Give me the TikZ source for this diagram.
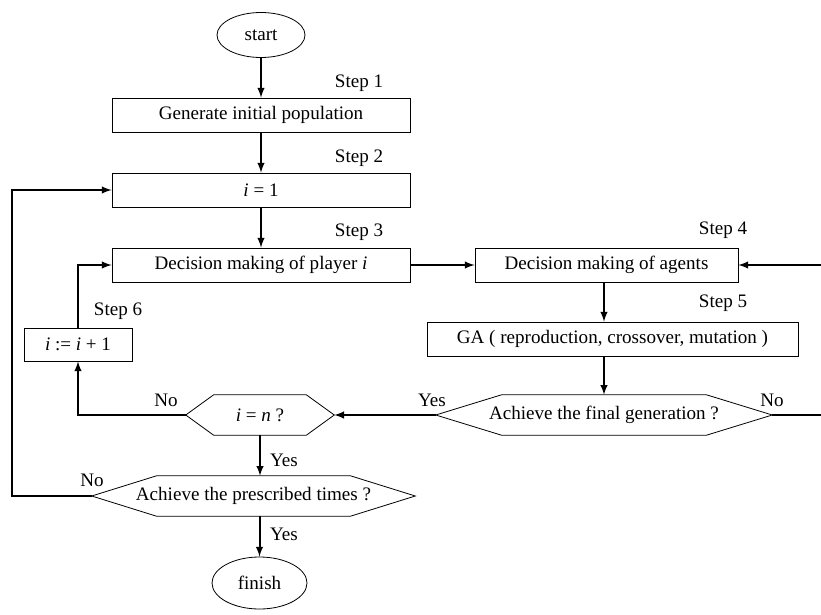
\documentclass[tikz,border=0pt]{standalone}
\usepackage{fontspec}
\setmainfont{Liberation Serif}
\usetikzlibrary{arrows}
\usetikzlibrary{shapes.geometric}

% outline of a decision node: tips at west/east, flat top and bottom
\newcommand{\hexline}[2]{%
  \draw[outline] (#1.west) -- ([xshift=#2]#1.north west) -- ([xshift=-#2]#1.north east)
    -- (#1.east) -- ([xshift=-#2]#1.south east) -- ([xshift=#2]#1.south west) -- cycle;}

\begin{document}
\begin{tikzpicture}[x=0.75pt, y=-0.75pt, >=latex, text=black,
  font=\fontsize{14.3}{16}\selectfont,
  outline/.style={draw=black, line width=0.6pt},
  flow/.style={->, line width=1.5pt, shorten >=0pt},
  plain/.style={line width=1.5pt},
  process/.style={rectangle, outline, inner sep=0pt, minimum height=25.5pt},
  terminal/.style={ellipse, outline, inner sep=0pt},
  decision/.style={rectangle, inner sep=0pt, minimum height=30pt},
  steplabel/.style={inner sep=1pt},
  answer/.style={inner sep=1pt}]

  \useasboundingbox (0,0) rectangle (821,614);

  % nodes
  \node[terminal, minimum width=66pt, minimum height=33.75pt] (start) at (261,35) {start};
  \node[process, minimum width=223.5pt] (init) at (261,115) {Generate initial population};
  \node[process, minimum width=223.5pt] (one) at (261,190) {\textit{i} = 1};
  \node[process, minimum width=223.5pt] (player) at (261,265) {Decision making of player \textit{i}};
  \node[process, minimum width=197.25pt] (agents) at (606.5,265) {Decision making of agents};
  \node[process, minimum width=278.25pt] (ga) at (612.5,339) {GA ( reproduction, crossover, mutation )};
  \node[process, minimum width=81pt, minimum height=24.75pt] (incr) at (78,344.5) {\textit{i} := \textit{i} + 1};
  \node[decision, minimum width=252pt] (gen) at (604,415) {Achieve the final generation ?};
  \node[decision, minimum width=111pt] (test) at (260,415) {\textit{i} = \textit{n} ?};
  \node[decision, minimum width=242.25pt] (times) at (253.5,496) {Achieve the prescribed times ?};
  \node[terminal, minimum width=71.25pt, minimum height=39pt] (finish) at (259.5,583) {finish};

  \hexline{gen}{49.5pt}
  \hexline{test}{21pt}
  \hexline{times}{48.75pt}

  % step labels
  \node[steplabel] (s1) at (359,83) {Step 1};
  \node[steplabel] (s2) at (359,158) {Step 2};
  \node[steplabel] (s3) at (359,232) {Step 3};
  \node[steplabel] (s4) at (723,230) {Step 4};
  \node[steplabel] (s5) at (723,303) {Step 5};
  \node[steplabel] (s6) at (118,311) {Step 6};

  % free ends
  \coordinate (rightin) at (821,265);
  \coordinate (rightout) at (821,415);
  \coordinate (loop) at (12,496);

  % connectors
  \draw[flow] (start) -- (init);
  \draw[flow] (init) -- (one);
  \draw[flow] (one) -- (player);
  \draw[flow] (player) -- (agents);
  \draw[flow] (rightin) -- (agents.east);
  \draw[flow] (agents.south -| gen.north) -- (ga.north -| gen.north);
  \draw[flow] (ga.south -| gen.north) -- (gen.north);
  \draw[plain] (gen.east) -- (rightout);
  \draw[flow] (gen.west) -- (test.east);
  \draw[flow] (test.west) -| (incr.south);
  \draw[flow] (incr.north) |- (player.west);
  \draw[flow] (test.south) -- (test.south |- times.north);
  \draw[flow] (times.west) -- (loop) |- (one.west);
  \draw[flow] (times.south -| finish.north) -- (finish.north);

  % answers
  \node[answer] (yes1) at (432,400) {Yes};
  \node[answer] (no1) at (772,400) {No};
  \node[answer] (no2) at (166,400) {No};
  \node[answer] (yes2) at (284,460) {Yes};
  \node[answer] (no3) at (92,480) {No};
  \node[answer] (yes3) at (284,534) {Yes};
\end{tikzpicture}
\end{document}
